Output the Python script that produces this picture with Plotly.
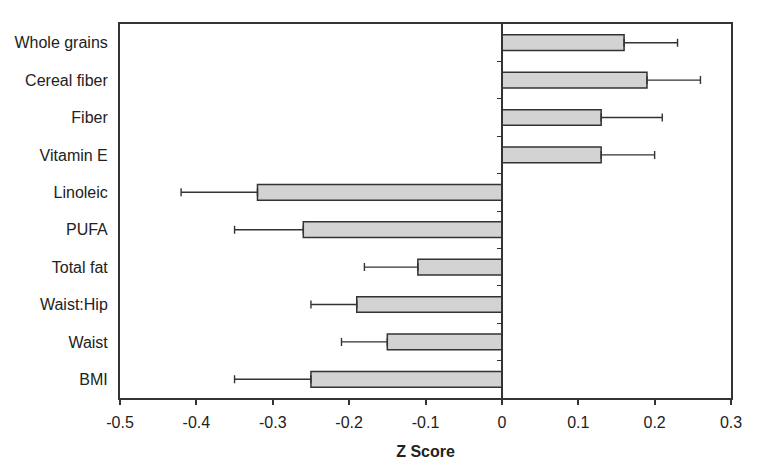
import plotly.graph_objects as go

categories = ["BMI", "Waist", "Waist:Hip", "Total fat", "PUFA", "Linoleic",
              "Vitamin E", "Fiber", "Cereal fiber", "Whole grains"]
z_scores = [-0.25, -0.15, -0.19, -0.11, -0.26, -0.32, 0.13, 0.13, 0.19, 0.16]
errors = [0.10, 0.06, 0.06, 0.07, 0.09, 0.10, 0.07, 0.08, 0.07, 0.07]
x_ticks = [-0.5, -0.4, -0.3, -0.2, -0.1, 0, 0.1, 0.2, 0.3]
x_tick_labels = ["-0.5", "-0.4", "-0.3", "-0.2", "-0.1", "0", "0.1", "0.2", "0.3"]
x_range = [-0.5, 0.3]

font_family = "Liberation Sans, Arial, sans-serif"
dark = "#333333"

fig = go.Figure()
fig.add_trace(go.Bar(
    y=categories, x=z_scores, orientation="h",
    marker=dict(color="#d3d3d3", line=dict(color=dark, width=1.5)),
    width=0.42,
    error_x=dict(type="data", array=[e if v > 0 else 0 for v, e in zip(z_scores, errors)],
                 arrayminus=[e if v < 0 else 0 for v, e in zip(z_scores, errors)],
                 symmetric=False, color=dark, thickness=1.4, width=4),
    showlegend=False, hoverinfo="skip",
))

n = len(categories)
fig.add_trace(go.Scatter(x=[0], y=[0], yaxis="y2", mode="markers",
                         marker=dict(opacity=0), showlegend=False, hoverinfo="skip"))

zero_pos = (0 - x_range[0]) / (x_range[1] - x_range[0])

fig.update_layout(
    width=777, height=465,
    margin=dict(l=112, r=54, t=16, b=75),
    paper_bgcolor="white", plot_bgcolor="white",
    font=dict(family=font_family, size=16, color="#222222"),
    xaxis=dict(range=x_range, tickvals=x_ticks, ticktext=x_tick_labels,
               ticks="outside", ticklen=5, tickwidth=1.5, tickcolor=dark,
               showgrid=False, zeroline=False, automargin=False,
               showline=True, linecolor=dark, linewidth=2, mirror=True,
               ticklabelstandoff=4,
               title=dict(text="<b>Z Score</b>", font=dict(size=16), standoff=16),
               tickfont=dict(size=16)),
    yaxis=dict(categoryorder="array", categoryarray=categories,
               range=[-0.5, n - 0.5], automargin=False,
               showgrid=False, zeroline=False, ticks="",
               showline=True, linecolor=dark, linewidth=2, mirror=True,
               tickfont=dict(size=16), ticklabelstandoff=7),
    yaxis2=dict(overlaying="y", anchor="free", position=zero_pos,
                range=[-0.5, n - 0.5], automargin=False,
                tickvals=[i + 0.5 for i in range(n - 1)],
                showticklabels=False, ticks="outside", ticklen=4, tickwidth=1.4,
                tickcolor=dark, showline=True, linecolor=dark, linewidth=1.5,
                showgrid=False, zeroline=False),
)

fig.write_html("out.html")
